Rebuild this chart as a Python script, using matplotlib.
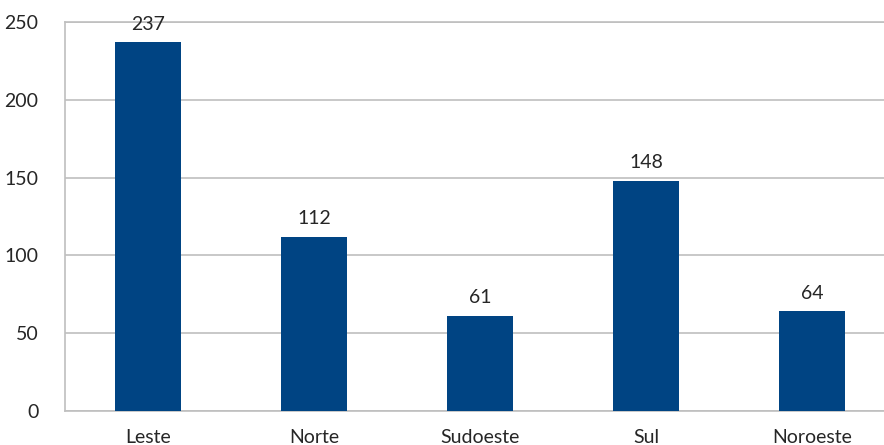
import matplotlib.pyplot as plt
import numpy as np

regioes = ['Leste', 'Norte', 'Sudoeste', 'Sul', 'Noroeste']
valores = [237, 112, 61, 148, 64]
yticks = [0, 50, 100, 150, 200, 250]

plt.rcParams['font.family'] = ['Lato', 'DejaVu Sans']

fig = plt.figure(figsize=(8.84, 4.45), dpi=100)
# plot area runs a bit past the right edge, as in the original
ax = fig.add_axes([65/884, 34/445, 830/884, 389/445])

x_pos = np.arange(len(regioes))
ax.bar(x_pos, valores, width=0.4, color='#004483', zorder=3)

for x, v in zip(x_pos, valores):
    ax.annotate(str(v), (x, v), xytext=(0, 7), textcoords='offset points',
                ha='center', va='bottom', fontsize=14, color='#262626')

ax.set_xlim(-0.5, len(regioes) - 0.5)
ax.set_ylim(0, 250)
ax.set_yticks(yticks)
ax.set_xticks(x_pos)
ax.set_xticklabels(regioes)
ax.tick_params(axis='both', length=0, labelsize=14, colors='#262626')
ax.tick_params(axis='y', pad=19)
ax.tick_params(axis='x', pad=13)

ax.yaxis.grid(True, color='#BFBFBF', linewidth=1.2, zorder=0)
for side in ['left', 'bottom', 'top']:
    ax.spines[side].set_color('#BFBFBF')
    ax.spines[side].set_linewidth(1.2)
ax.spines['right'].set_visible(False)

plt.savefig('out.png', dpi=100)
